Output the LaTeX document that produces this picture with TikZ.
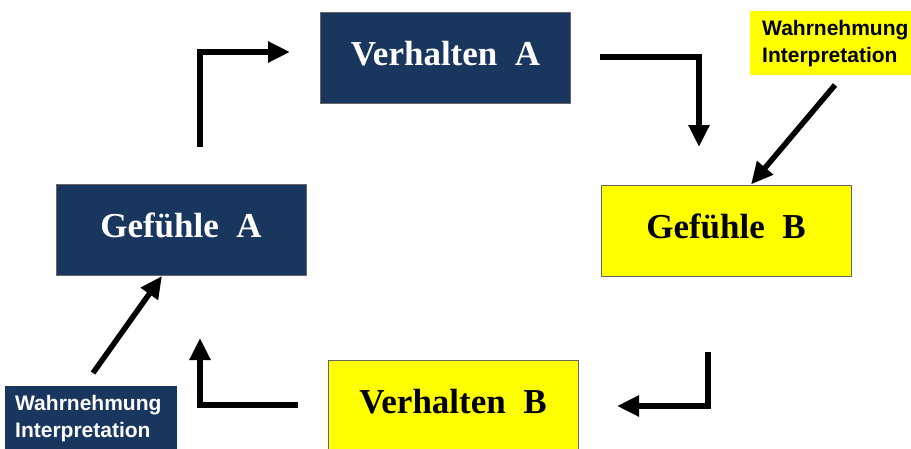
\documentclass[tikz,border=0pt]{standalone}
\usepackage{fontspec}
\setmainfont{Liberation Serif}
\setsansfont{Liberation Sans}
\usetikzlibrary{arrows.meta}
\definecolor{dunkelblau}{RGB}{24,54,94}
\definecolor{gelb}{RGB}{255,255,0}
\tikzset{
    kasten/.style={draw=black!60, line width=1, minimum width=250, minimum height=91,
        text height=24, text depth=9, font=\fontsize{35}{35}\selectfont\bfseries},
    kastenA/.style={kasten, fill=dunkelblau, text=white},
    kastenB/.style={kasten, fill=gelb, text=black},
    hinweis/.style={anchor=north west, minimum height=64, align=left, inner xsep=10,
        text width=152, font=\fontsize{21}{27}\selectfont\sffamily\bfseries},
    pfeil/.style={line width=5.5, -{Triangle[width=20,length=22]}}
}
\begin{document}
\begin{tikzpicture}[x=1pt, y=-1pt]
    \useasboundingbox (0,0) rectangle (911,448);
    %Kaesten
    \node[kastenA] (verhA) at (445.5,57.5)  {Verhalten\ \ A};
    \node[kastenA] (gefA)  at (181,230)     {Gef\"uhle\ \ A};
    \node[kastenB] (gefB)  at (726,230.5)   {Gef\"uhle\ \ B};
    \node[kastenB] (verhB) at (453,405.5)   {Verhalten\ \ B};
    %Hinweise
    \node[hinweis, inner xsep=12, fill=gelb, text=black] (wahrB) at (750,11) {Wahrnehmung\\Interpretation};
    \node[hinweis, fill=dunkelblau, text=white] (wahrA) at (5,386) {Wahrnehmung\\Interpretation};
    %Kreislauf
    \coordinate (a1) at (200,147);  \coordinate (a2) at (290,52);
    \coordinate (b1) at (600,57);   \coordinate (b2) at (699,147);
    \coordinate (c1) at (708,352);  \coordinate (c2) at (617,406);
    \coordinate (d1) at (298,405);  \coordinate (d2) at (200,338);
    \draw[pfeil] (a1) |- (a2);
    \draw[pfeil] (b1) -| (b2);
    \draw[pfeil] (c1) |- (c2);
    \draw[pfeil] (d1) -| (d2);
    %Einfluss
    \coordinate (e1) at (835,85);
    \coordinate (f1) at (93,373);
    \draw[pfeil] (e1) -- ([xshift=25]gefB.north);
    \draw[pfeil] (f1) -- ([xshift=-19]gefA.south);
\end{tikzpicture}
\end{document}
